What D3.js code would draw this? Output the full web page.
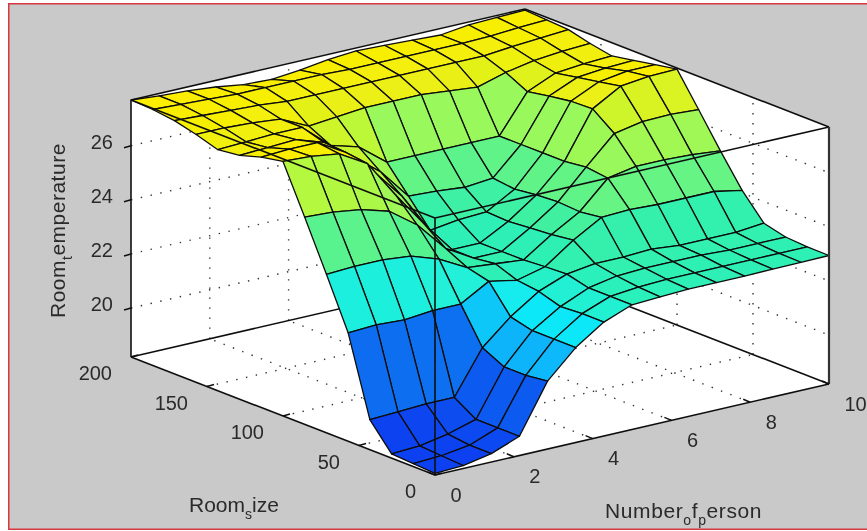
<!DOCTYPE html>
<html>
<head>
<meta charset="utf-8">
<script src="https://cdnjs.cloudflare.com/ajax/libs/d3/7.8.5/d3.min.js"></script>
<style>
  html, body { margin: 0; padding: 0; background: #fff; }
  svg { display: block; }
  text { font-family: "Liberation Sans", Arial, sans-serif; fill: #2a2a2a; }
</style>
</head>
<body>
<script>
// Grid of the surface, 15 points on each input
const personGrid = [0, 0.714, 1.429, 2.143, 2.857, 3.571, 4.286, 5, 5.714, 6.429, 7.143, 7.857, 8.571, 9.286, 10];
const sizeGrid = [0, 14.29, 28.57, 42.86, 57.14, 71.43, 85.71, 100, 114.29, 128.57, 142.86, 157.14, 171.43, 185.71, 200];

// Room temperature, one row per sizeGrid value
const temperature = [
  [18.25, 18.30, 18.50, 18.90, 20.70, 21.70, 22.40, 22.80, 22.85, 22.90, 22.90, 22.90, 22.92, 22.93, 22.94],
  [18.30, 18.35, 18.50, 18.90, 20.60, 21.70, 22.40, 22.80, 22.90, 22.95, 22.95, 22.95, 22.95, 22.95, 22.95],
  [18.35, 18.40, 18.60, 18.90, 20.60, 21.70, 22.35, 22.80, 23.00, 23.05, 23.05, 23.05, 23.00, 23.00, 23.00],
  [19.30, 19.35, 19.40, 19.40, 21.00, 21.90, 22.60, 23.00, 23.15, 23.15, 23.20, 23.10, 23.10, 23.10, 23.20],
  [22.20, 22.25, 22.20, 22.30, 22.30, 22.90, 22.70, 22.96, 23.70, 24.30, 24.35, 24.30, 24.30, 24.30, 24.10],
  [24.05, 24.10, 24.10, 24.00, 23.65, 23.10, 23.00, 22.90, 23.60, 24.20, 25.20, 25.40, 25.40, 25.35, 25.25],
  [25.85, 25.80, 25.65, 25.35, 24.60, 23.50, 22.90, 22.90, 23.53, 24.25, 25.30, 26.30, 26.50, 26.53, 26.46],
  [27.60, 27.55, 27.40, 26.80, 25.40, 24.10, 22.90, 22.90, 23.46, 24.20, 25.20, 26.90, 27.50, 27.62, 27.65],
  [27.45, 27.50, 27.50, 26.90, 25.95, 24.80, 23.30, 23.45, 23.50, 24.10, 25.20, 26.87, 27.35, 27.50, 27.50],
  [27.20, 27.25, 27.30, 26.96, 26.20, 25.40, 24.25, 24.20, 24.10, 24.20, 25.20, 26.75, 27.20, 27.30, 27.35],
  [27.10, 27.15, 27.20, 27.20, 26.30, 26.00, 25.20, 25.20, 25.20, 25.20, 25.20, 26.60, 27.05, 27.15, 27.20],
  [27.35, 27.35, 27.30, 27.20, 26.70, 26.80, 26.90, 26.90, 26.90, 26.80, 26.70, 27.00, 27.20, 27.30, 27.35],
  [27.55, 27.50, 27.45, 27.40, 27.30, 27.30, 27.30, 27.30, 27.30, 27.30, 27.30, 27.30, 27.40, 27.48, 27.55],
  [27.65, 27.60, 27.55, 27.50, 27.50, 27.50, 27.50, 27.45, 27.45, 27.45, 27.45, 27.45, 27.48, 27.55, 27.60],
  [27.69, 27.60, 27.55, 27.45, 27.30, 27.25, 27.35, 27.50, 27.58, 27.55, 27.50, 27.45, 27.58, 27.62, 27.65]
];

const personTicks = [0, 2, 4, 6, 8, 10];
const sizeTicks = [0, 50, 100, 150, 200];
const tempTicks = [20, 22, 24, 26];

const width = 867;
const height = 531;
const tempMin = 18.19;
const tempMax = 27.69;

// Oblique projection: every input moves the point along its own screen direction
const xToScreenX = d3.scaleLinear().domain([0, 10]).range([0, 394]);
const xToScreenY = d3.scaleLinear().domain([0, 10]).range([0, -91]);
const yToScreenX = d3.scaleLinear().domain([0, 200]).range([0, -304]);
const yToScreenY = d3.scaleLinear().domain([0, 200]).range([0, -118]);
const zToScreenY = d3.scaleLinear().domain([tempMin, tempMax]).range([0, -257]);

const originX = 435;
const originY = 475;

const project = (x, y, z) => [
  originX + xToScreenX(x) + yToScreenX(y),
  originY + xToScreenY(x) + yToScreenY(y) + zToScreenY(z)
];

const colour = d3.scaleLinear()
  .domain([18.3, 19.4, 20.6, 21.7, 22.3, 23, 23.6, 24.2, 25.2, 26, 26.8, 27.6])
  .range(['#1040f0', '#1070f0', '#10b4fa', '#10e8f8', '#20f0d8', '#30f0b0', '#40f0a0', '#60f488', '#98f85c', '#bcf838', '#eaf014', '#fbee00'])
  .clamp(true);

const svg = d3.select('body').append('svg')
  .attr('width', width)
  .attr('height', height);

// The reference is a soft scan, a small blur brings the edges closer
svg.append('defs').append('filter')
  .attr('id', 'soft')
  .attr('x', 0).attr('y', 0).attr('width', 1).attr('height', 1)
  .append('feGaussianBlur')
  .attr('stdDeviation', 0.4);

const root = svg.append('g').attr('filter', 'url(#soft)');

root.append('rect')
  .attr('x', 8.5).attr('y', 3.5)
  .attr('width', width).attr('height', 526)
  .attr('fill', '#c9c9c9')
  .attr('stroke', '#d8383c')
  .attr('stroke-width', 2);

const line = d3.line();

// Axes box, white inside
root.append('path')
  .attr('d', line([
    project(0, 200, tempMin), project(0, 0, tempMin), project(10, 0, tempMin),
    project(10, 0, tempMax), project(10, 200, tempMax), project(0, 200, tempMax)
  ]) + 'Z')
  .attr('fill', '#fff');

// Dotted grid on the two back walls and the floor
const grid = root.append('g')
  .attr('fill', 'none')
  .attr('stroke', '#333')
  .attr('stroke-width', 1.4)
  .attr('stroke-dasharray', '1.4 8.6');

const gridLine = (a, b) => grid.append('path').attr('d', line([a, b]));

personTicks.slice(1, -1).forEach(x => {
  gridLine(project(x, 200, tempMin), project(x, 200, tempMax));
  gridLine(project(x, 0, tempMin), project(x, 200, tempMin));
});
sizeTicks.slice(1, -1).forEach(y => {
  gridLine(project(10, y, tempMin), project(10, y, tempMax));
  gridLine(project(0, y, tempMin), project(10, y, tempMin));
});
tempTicks.forEach(z => {
  gridLine(project(0, 200, z), project(10, 200, z));
  gridLine(project(10, 200, z), project(10, 0, z));
});

const boxLine = (g, a, b) => g.append('path').attr('d', line([a, b]));

// Back edges of the floor go under the surface
const backEdges = root.append('g').attr('stroke', '#111').attr('stroke-width', 1.6).attr('fill', 'none');
boxLine(backEdges, project(0, 200, tempMin), project(10, 200, tempMin));
boxLine(backEdges, project(10, 200, tempMin), project(10, 0, tempMin));

// Surface faces, painted from the far corner to the near one
const faces = [];
for (let j = 0; j < sizeGrid.length - 1; j++) {
  for (let i = 0; i < personGrid.length - 1; i++) {
    faces.push({ i, j, depth: i + j });
  }
}
faces.sort((a, b) => b.depth - a.depth);

root.append('g').selectAll('path')
  .data(faces)
  .join('path')
  .attr('d', d => line([
    project(personGrid[d.i], sizeGrid[d.j], temperature[d.j][d.i]),
    project(personGrid[d.i + 1], sizeGrid[d.j], temperature[d.j][d.i + 1]),
    project(personGrid[d.i + 1], sizeGrid[d.j + 1], temperature[d.j + 1][d.i + 1]),
    project(personGrid[d.i], sizeGrid[d.j + 1], temperature[d.j + 1][d.i])
  ]) + 'Z')
  .attr('fill', d => colour(temperature[d.j][d.i]))
  .attr('stroke', '#0c0c0c')
  .attr('stroke-width', 1.3)
  .attr('stroke-linejoin', 'round');

// Box edges drawn over the surface
const box = root.append('g').attr('stroke', '#111').attr('stroke-width', 1.6).attr('fill', 'none');
boxLine(box, project(0, 200, tempMax), project(0, 0, tempMax));
boxLine(box, project(0, 0, tempMax), project(10, 0, tempMax));
boxLine(box, project(0, 200, tempMax), project(10, 200, tempMax));
boxLine(box, project(10, 200, tempMax), project(10, 0, tempMax));
boxLine(box, project(0, 0, tempMin), project(0, 0, tempMax));
boxLine(box, project(0, 200, tempMin), project(0, 200, tempMax));
boxLine(box, project(10, 0, tempMin), project(10, 0, tempMax)).attr('stroke-width', 2.2).attr('stroke', '#333');
boxLine(box, project(0, 200, tempMin), project(0, 0, tempMin));
boxLine(box, project(0, 0, tempMin), project(10, 0, tempMin));

// Ticks and their labels
const ticks = root.append('g').attr('stroke', '#111').attr('stroke-width', 1.5);
const labels = root.append('g').attr('font-size', 20);

personTicks.forEach(x => {
  const [px, py] = project(x, 0, tempMin);
  ticks.append('line').attr('x1', px).attr('y1', py).attr('x2', px - 7).attr('y2', py - 3);
  labels.append('text').text(x)
    .attr('x', px + 15.5).attr('y', py + 19.5)
    .attr('dominant-baseline', 'central');
});
sizeTicks.forEach(y => {
  const [px, py] = project(0, y, tempMin);
  ticks.append('line').attr('x1', px).attr('y1', py).attr('x2', px + 7).attr('y2', py - 2);
  labels.append('text').text(y)
    .attr('x', px - 19).attr('y', py + 16)
    .attr('text-anchor', 'end')
    .attr('dominant-baseline', 'central');
});
tempTicks.forEach(z => {
  const [px, py] = project(0, 200, z);
  ticks.append('line').attr('x1', px).attr('y1', py).attr('x2', px - 7).attr('y2', py + 2);
  labels.append('text').text(z)
    .attr('x', px - 18).attr('y', py - 4)
    .attr('text-anchor', 'end')
    .attr('dominant-baseline', 'central');
});

// Axis titles: the underscore became a subscript in the original
function title(parts, x, y, rotate, spacing) {
  const t = root.append('text')
    .attr('letter-spacing', spacing)
    .attr('transform', `translate(${x},${y}) rotate(${rotate})`);
  parts.forEach(p => {
    const sub = p.sub === true;
    t.append('tspan')
      .attr('font-size', sub ? 14 : 21)
      .attr('dy', sub ? 7 : p.back ? -7 : 0)
      .text(p.text);
  });
}

title([{ text: 'Room' }, { text: 't', sub: true }, { text: 'emperature', back: true }], 65, 318, -90, 0.5);
title([{ text: 'Room' }, { text: 's', sub: true }, { text: 'ize', back: true }], 189, 512, 0, 0);
title([
  { text: 'Number' }, { text: 'o', sub: true }, { text: 'f', back: true },
  { text: 'p', sub: true }, { text: 'erson', back: true }
], 605, 518, 0, 0.6);
</script>
</body>
</html>
